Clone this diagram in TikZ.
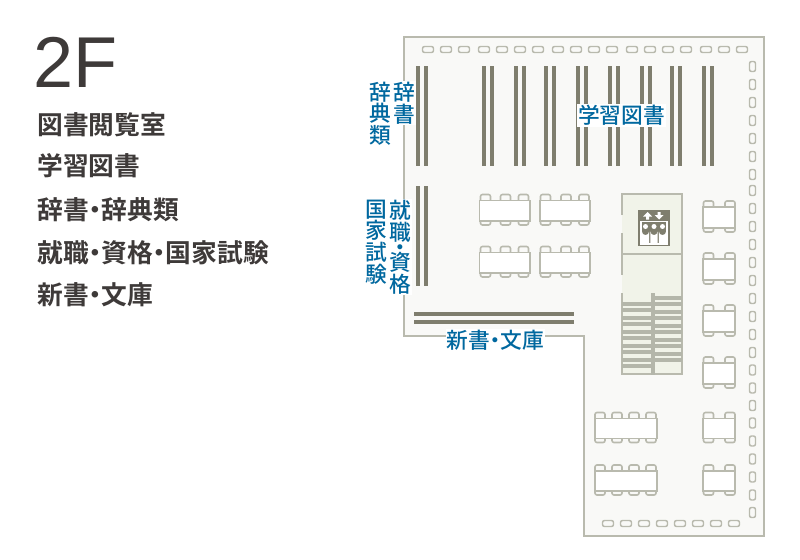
\documentclass[tikz,border=0pt]{standalone}
\usepackage{fontspec}
\setmainfont{Liberation Sans}
\newfontfamily\cjkm{Noto Sans CJK JP Medium}
\newfontfamily\cjkb{Noto Sans CJK JP Bold}
\definecolor{wallc}{HTML}{B9BAAE}
\definecolor{floorc}{HTML}{F9F9F7}
\definecolor{roomc}{HTML}{F1F3E9}
\definecolor{shelfc}{HTML}{7F7E6E}
\definecolor{stairc}{HTML}{B4B6AA}
\definecolor{inkc}{HTML}{3E3A39}
\definecolor{bluec}{HTML}{00689F}
\newcommand{\dotc}{\makebox[0.5em][c]{・}}
\tikzset{
  wall/.style={draw=wallc,line width=1.5pt},
  chair/.style={draw=wallc,line width=1.2pt,fill=floorc,rounded corners=1.5pt},
  desk/.style={draw=wallc,line width=1.2pt,fill=white},
  listtext/.style={anchor=west,inner sep=0pt,text=inkc,font={\cjkb\fontsize{19.3}{20}\selectfont}},
  maplabel/.style={inner sep=0.8pt,fill=white,text=bluec,font={\cjkm\fontsize{16.3}{16.3}\selectfont}},
  vlabel/.style={maplabel,align=center}
}
% 机と椅子: 左端, 右端, 上端, 下端, 椅子の左端のリスト
\newcommand{\deskset}[5]{
  \foreach \cx in {#5} {
    \draw[chair] (\cx,#3-6) rectangle (\cx+10,#3+3);
    \draw[chair] (\cx,#4-3) rectangle (\cx+10,#4+4);
  }
  \draw[desk] (#1,#3) rectangle (#2,#4);
}
\begin{document}
\begin{tikzpicture}[x=0.75pt,y=-0.75pt]
  \useasboundingbox (0,0) rectangle (800,560);

  % 階の名前と一覧
  \node[anchor=base west,inner sep=0pt,text=inkc,font=\fontsize{54}{54}\selectfont] (floorname) at (33.5,88) {2F};
  \node[listtext] (item1) at (37,125) {図書閲覧室};
  \node[listtext] (item2) at (37,166) {学習図書};
  \node[listtext] (item3) at (37,210) {辞書\dotc 辞典類};
  \node[listtext] (item4) at (37,253) {就職\dotc 資格\dotc 国家試験};
  \node[listtext] (item5) at (37,295) {新書\dotc 文庫};

  % 床の外形
  \draw[wall,fill=floorc] (404,37) -- (763.5,37) -- (763.5,535.5) -- (584,535.5) -- (584,336) -- (404,336) -- cycle;

  % 窓際の椅子
  \foreach \x in {422,440,458,478,496,514,532,552,570,588,606,626,644,662,680,700,718,736}
    \draw[chair,line width=1.1pt] (\x+.5,46.5) rectangle (\x+11.5,52.5);
  \foreach \x in {602,620,638,656,674,692,710,728}
    \draw[chair,line width=1.1pt] (\x+.5,520.5) rectangle (\x+11.5,526.5);
  \foreach \y in {61,79,97,115,133,151,169,185,203,221,239,257,275,293,311,329,347,364.5,382.5,400,417.5,435.5,453.5,471.5,489.5,507}
    \draw[chair,line width=1.1pt] (749.5,\y+.5) rectangle (755.5,\y+10.5);

  % 本棚
  \foreach \x in {416,424,482,490,514,522,544,552,576,584,608,616,640,648,670,678,702,710}
    \fill[shelfc] (\x,66) rectangle (\x+4,166);
  \foreach \x in {416,424}
    \fill[shelfc] (\x,186) rectangle (\x+4,286);
  \foreach \y in {312,320}
    \fill[shelfc] (414,\y) rectangle (574,\y+4);

  % 閲覧机
  \deskset{479.5}{530}{200.5}{221}{480.5,500.5,518.5}
  \deskset{540}{590}{200.5}{221}{540.5,561,579}
  \deskset{479.5}{530}{252.5}{273}{480.5,500.5,518.5}
  \deskset{540}{590}{252.5}{273}{540.5,561,579}
  \foreach \y in {207,259,311,363} {
    \deskset{703}{735}{\y}{\y+21}{703.5,725}
  }
  \foreach \y in {418.5,471} {
    \deskset{595}{657}{\y}{\y+20}{595,612,629,646}
    \deskset{703}{735}{\y}{\y+20}{703.5,725}
  }

  % エレベーターと階段の部屋
  \fill[roomc] (622,194) rectangle (682,374);
  \draw[wall] (622,215) -- (622,194) -- (682,194) -- (682,374) -- (622,374) -- (622,293);
  \draw[wall] (622,233) -- (622,275);
  \draw[wall] (622,253.5) -- (682,253.5);
  \foreach \y in {302,308,316,322,330,336,344,350,358,364}
    \fill[stairc] (622,\y) rectangle (653,\y+4);
  \foreach \y in {296,302,310,316,324,330,338,344,352,358}
    \fill[stairc] (653,\y) rectangle (682,\y+4);
  \fill[stairc] (651,293) rectangle (655,375);

  % エレベーターの記号
  \fill[shelfc] (638,210) rectangle (670,246);
  \draw[white,line width=.8pt] (641,221.5) rectangle (667,244);
  \fill[white] (647.5,212) -- (652,216.5) -- (649,216.5) -- (649,219.5) -- (646,219.5) -- (646,216.5) -- (643,216.5) -- cycle;
  \fill[white] (659,219.5) -- (663.5,215) -- (660.5,215) -- (660.5,212) -- (657.5,212) -- (657.5,215) -- (654.5,215) -- cycle;
  \foreach \x in {645.5,654,662.5} {
    \fill[white] (\x,226.5) circle (2.5);
    \fill[white] (\x-3.6,244) -- (\x-3.6,231.5) arc[start angle=180,end angle=0,radius=3.6] -- (\x+3.6,244) -- cycle;
  }

  % 地図の文字
  \node[vlabel] (shelfa) at (404,103) {辞\\書};
  \node[vlabel] (shelfb) at (380,113.5) {辞\\典\\類};
  \node[maplabel] (shelfc) at (621.5,115.5) {学習図書};
  \node[vlabel] (shelfd) at (400,247) {就\\職\\[-5pt]・\\[-5pt]資\\格};
  \node[vlabel] (shelfe) at (376,242) {国\\家\\試\\験};
  \node[maplabel] (shelff) at (495.5,340.5) {新書\dotc 文庫};
\end{tikzpicture}
\end{document}
